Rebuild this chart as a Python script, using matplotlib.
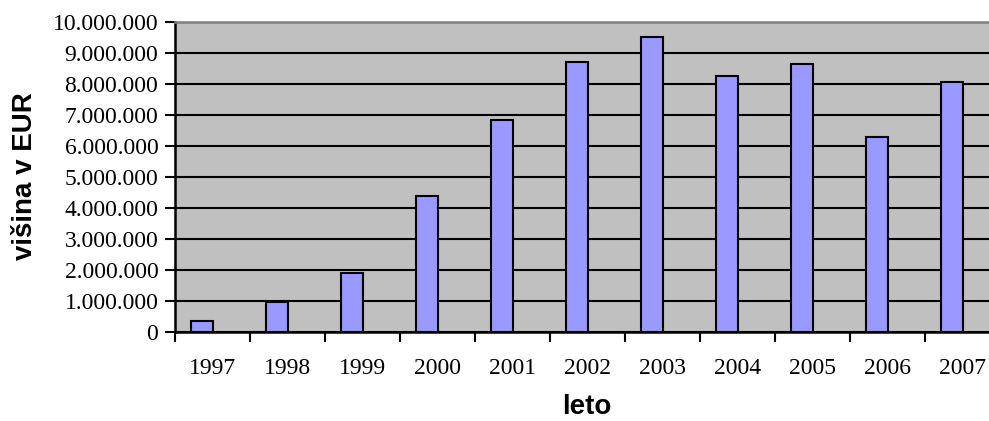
import numpy as np
import matplotlib
matplotlib.use("Agg")
from matplotlib import pyplot as plt
from matplotlib.ticker import FuncFormatter, FixedLocator

# data
years = ['1997', '1998', '1999', '2000', '2001', '2002', '2003', '2004', '2005', '2006', '2007']
values = [370000, 970000, 1890000, 4400000, 6850000, 8700000, 9520000, 8250000, 8640000, 6280000, 8060000]
yticks = [0, 1000000, 2000000, 3000000, 4000000, 5000000, 6000000, 7000000, 8000000, 9000000, 10000000]


def fmt(v, pos):
    return '{:,.0f}'.format(v).replace(',', '.')


fig = plt.figure(figsize=(9.89, 4.21), dpi=100)
ax = fig.add_axes([175 / 989, 89 / 421, 814 / 989, 310 / 421])
ax.set_facecolor('#C0C0C0')

x = np.arange(len(years))
ax.bar(x - 0.14, values, width=0.293, color='#9999FF', edgecolor='black', linewidth=1.5, zorder=3)

ax.set_ylim(0, 10000000)
ax.set_xlim(-0.5, 10.5 - 11 / 75)
ax.set_yticks(yticks)
ax.yaxis.set_major_formatter(FuncFormatter(fmt))
ax.grid(axis='y', color='black', linewidth=1.5, zorder=1)
ax.set_axisbelow(True)

ax.set_xticks(x)
ax.set_xticklabels(years)
ax.xaxis.set_minor_locator(FixedLocator(np.arange(-0.5, 11, 1)))
ax.tick_params(axis='x', which='major', length=0, pad=19)
ax.tick_params(axis='x', which='minor', length=7, width=1.5, direction='out')
ax.tick_params(axis='y', length=7, width=1.5, direction='out', pad=5)
for lab in ax.get_xticklabels() + ax.get_yticklabels():
    lab.set_family('Liberation Serif')
    lab.set_fontsize(17)

ax.spines['left'].set_linewidth(1.8)
ax.spines['bottom'].set_linewidth(1.8)
ax.spines['top'].set_color('#808080')
ax.spines['top'].set_linewidth(1.8)
ax.spines['right'].set_visible(False)

fig.text(25 / 989, 1 - 176 / 421, 'višina v EUR', rotation=90, ha='center', va='center',
         family='Liberation Sans', fontweight='bold', fontsize=20)
fig.text(587 / 989, 1 / 421, 'leto', ha='center', va='bottom',
         family='Liberation Sans', fontweight='bold', fontsize=20)

fig.savefig('out.png', dpi=100)
